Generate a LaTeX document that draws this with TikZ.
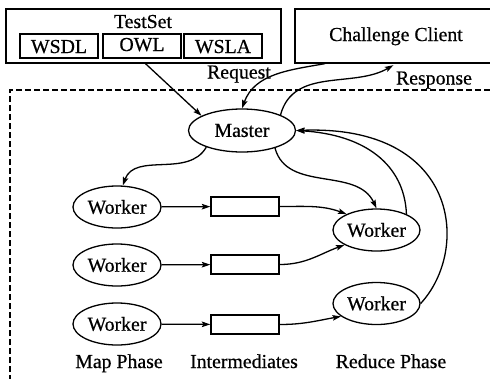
\documentclass[tikz,border=0pt]{standalone}
\usepackage{fontspec}
\setmainfont[FakeBold=0.6]{Liberation Serif}
\usetikzlibrary{arrows.meta,shapes.geometric}
\begin{document}
\begin{tikzpicture}[x=1pt,y=-1pt,line width=1.3pt,
  every node/.style={font=\fontsize{19.8}{23}\selectfont,inner sep=0pt},
  frame/.style={draw,rectangle,minimum height=54pt},
  filebox/.style={draw,rectangle,minimum width=78pt,minimum height=24pt},
  proc/.style={draw,ellipse,minimum width=88pt,minimum height=42pt},
  interbox/.style={draw,rectangle,minimum width=68pt,minimum height=19pt},
  lbl/.style={anchor=base},
  arr/.style={-{Stealth[length=8.5pt,width=5.5pt,inset=1.5pt]}},
  region/.style={dash pattern=on 6pt off 3pt}]
\useasboundingbox (0,0) rectangle (490,378);
\clip (0,0) rectangle (490,378);

% test set with its three files
\node[frame,minimum width=275pt] (ts) at (143.5,36) {};
\node[lbl] (tstext) at (143,28) {TestSet};
\node[filebox] (wsdl) at (59,46) {};
\node[lbl] at (59,53) {WSDL};
\node[filebox] (owl) at (142,46) {};
\node[lbl] at (142,51) {OWL};
\node[filebox] (wsla) at (223,46) {};
\node[lbl] at (223,53) {WSLA};

% client box, running off the right edge
\node[frame,minimum width=210pt] (cc) at (400,36) {};
\node[lbl] (cctext) at (396,41) {Challenge Client};

% cluster boundary
\draw[region] (10,390) -- (10,90) -- (500,90);

% master and workers
\node[proc,minimum width=107pt,minimum height=43pt] (master) at (242,130.5) {Master};
\node[proc] (mw1) at (117,207) {Worker};
\node[proc] (mw2) at (117,265) {Worker};
\node[proc] (mw3) at (117,324) {Worker};
\node[interbox] (r1) at (245,206.5) {};
\node[interbox] (r2) at (245,264.5) {};
\node[interbox] (r3) at (245,324.5) {};
\node[proc,minimum width=87pt] (rw1) at (376.5,230) {Worker};
\node[proc,minimum width=87pt] (rw2) at (376.5,303.5) {Worker};

% phase labels
\node[lbl] (lmap) at (119,368) {Map Phase};
\node[lbl] (linter) at (244,368) {Intermediates};
\node[lbl] (lred) at (391,368) {Reduce Phase};
\node[lbl] (lreq) at (239,78.5) {Request};
\node[lbl] (lresp) at (434,84.5) {Response};

% connectors
\draw[arr] ([xshift=2pt]ts.south) -- (master.160);
\draw[arr] ([xshift=-75pt]cc.south) to[out=190,in=70] (master.north);
\draw[arr,shorten >=3pt] (master.22) to[out=75,in=210] ([xshift=-4pt]cc.south);
\draw[arr] (master.205) to[out=240,in=70] (mw1.75);
\draw[arr] (master.-28) to[out=-75,in=115] (rw1.north);
\draw[arr] (mw1) -- (r1);
\draw[arr] (mw2) -- (r2);
\draw[arr] (mw3) -- (r3);
\draw[arr] (r1.east) to[out=0,in=160] (rw1.152);
\draw[arr] (r2.east) to[out=0,in=200] (rw1.205);
\draw[arr] (r3.east) to[out=0,in=190] (rw2.200);
\draw[arr] (rw1.28) .. controls +(-2,-50) and +(68,4) .. (master.east);
\draw[arr] (rw2.east) .. controls +(50,-54) and +(163,-6) .. (master.east);
\end{tikzpicture}
\end{document}
